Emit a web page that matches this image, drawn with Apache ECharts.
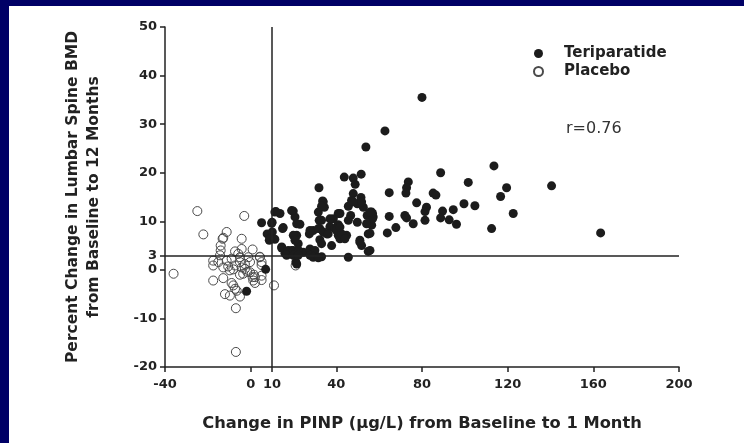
<!DOCTYPE html>
<html>
<head>
<meta charset="utf-8">
<script src="https://cdn.jsdelivr.net/npm/echarts@6/dist/echarts.min.js"></script>
<style>
html,body{margin:0;padding:0;background:#fff;}
#chart{width:744px;height:443px;}
</style>
</head>
<body>
<div id="chart"></div>
<script>
// ---- data ----
var xTicks = [-40, 0, 10, 40, 80, 120, 160, 200];
var yTicks = [-20, -10, 0, 3, 10, 20, 30, 40, 50];
var seriesNames = ['Teriparatide', 'Placebo'];
var teriparatide = [
  [80,35.5],[62.7,28.6],[53.8,25.3],[43.7,19.1],[47.9,18.9],[51.6,19.7],[48.8,17.6],[31.9,16.9],[33.6,14.2],[34.4,12.9],
  [47.9,15.7],[47.1,14.3],[51.5,14.9],[45.6,13.1],[49.8,13.6],[52.6,12.9],[56.5,11.9],[54.4,11.2],[19.9,12.1],[20.7,10.9],
  [13.7,11.6],[31.6,11.9],[38.6,10.5],[40.9,11.6],[46.7,11.2],[57.2,10.9],[32,10.2],[23,9.4],[15.2,8.7],[37,8.9],
  [40.9,9.3],[49.8,9.8],[56.5,9.2],[29.2,8.1],[32.3,8.5],[39.3,8.5],[27.4,7.4],[35.5,7.4],[40.9,7.1],[44.8,7.1],
  [21.5,7.1],[54.9,7.4],[32.3,6.2],[41.7,6.4],[37.8,5.0],[51,5.7],[51.8,5.0],[14.5,4.7],[22.2,5.4],[19.1,4.0],
  [16,3.4],[24.6,3.6],[27.7,4.3],[30,3.0],[33.1,2.7],[45.6,2.6],[54.9,3.8],[21.1,1.6],
  [64.7,15.9],[73.6,18.1],[72.8,16.9],[72.5,15.8],[88.7,20],[101.6,18],[85.2,15.8],[86.5,15.4],[77.5,13.8],[82.1,12.9],
  [81.4,12],[89.6,12.1],[94.6,12.4],[99.6,13.6],[104.7,13.2],[64.7,11],[72,11.2],[72.8,10.7],[81.4,10.2],[88.7,10.7],
  [92.7,10.3],[96.1,9.4],[75.9,9.5],[67.8,8.7],[63.8,7.6],[113.6,21.4],[119.5,16.9],[116.7,15.1],[122.6,11.6],[112.5,8.5],
  [140.5,17.3],[163.4,7.6],[56.9,11.6],[56.9,10.5],[55.7,7.5],[55.7,4],
  [11.3,11.9],[19.1,12.2],[21.5,9.5],[5.1,9.7],[9.8,9.6],[14.9,8.5],[33.9,14],[33.1,13.1],[47.9,14],[51.8,14],
  [55.7,11.9],[33.1,10.2],[37,10.5],[41.7,11.6],[45.6,10.2],[54.1,9.5],[27.7,8.1],[31.6,8.5],[33.9,7.8],[36.2,7.4],
  [40.1,8.1],[42.5,7.4],[41.7,8.8],[44,6.4],[51,6.1],[7.7,7.4],[9.8,6.4],[8.7,6.1],[19.9,7.1],[20.7,6.1],
  [33.1,5.4],[14.5,4.5],[17.5,4],[19.9,4],[22.2,4.1],[27.7,4.1],[30,4],[16.8,3],[19.9,3],[22.2,3],
  [27.7,3],[29.2,2.6],[31.6,2.5],[21.5,1.2],[10,9.8],[10.1,7.8],[9,6.4],[11.3,6.3],[11.8,12],[7,0.1],[-1.9,-4.4]
];
var placebo = [
  [-24.9,12.1],[-3,11.1],[-22.1,7.3],[-11.2,7.8],[-13.1,6.4],[-4.2,6.4],[-14,5],[-14,4],[-4.2,4.3],[-7.3,3.8],
  [-5.8,3.3],[0.9,4.2],[4.3,2.7],[-1.1,2.6],[-5,2.6],[-17.5,1.9],[-17.5,0.9],[-15.1,1.6],[-11.2,1.9],[-8.9,2.3],
  [-12.8,0.5],[-10.5,0.7],[-7.3,0.9],[-5,1.6],[-2.7,1.2],[-0.3,1.6],[5.1,1.0],[-9.7,-0.1],[-8.1,0.1],[-4.2,0.5],
  [-2.7,0.2],[-1.6,-0.4],[-5,-1],[-3.5,-0.8],[-0.3,-0.5],[1.5,-1],[0.9,-1.5],[2,-1.5],[5.1,-1.2],[-17.5,-2.2],
  [-12.8,-1.7],[-8.9,-2.7],[-8.1,-3.2],[1.2,-2.2],[2,-2.7],[-7.3,-3.9],[-12,-5],[-9.7,-5.3],[-5,-5.5],[-6.9,-7.9],
  [-6.9,-16.9],[-36,-0.8],[10.9,-3.2],[-12.8,6.6],[-14.3,3],[-6.5,-4.3],[5.1,-2.1],[21,0.9],[4.3,2.6],[5.1,1.6]
];
var refX = 10;
var refY = 3;
var rText = 'r=0.76';
var xTitle = 'Change in PINP (\u00b5g/L) from Baseline to 1 Month';
var yTitle = 'Percent Change in Lumbar Spine BMD\nfrom Baseline to 12 Months';

var boldFont = 'DejaVu Sans';
var ink = '#222';

var chart = echarts.init(document.getElementById('chart'), null, {renderer: 'canvas'});
chart.setOption({
  backgroundColor: '#fff',
  animation: false,
  grid: {left: 165, right: 65, top: 27, bottom: 76},
  legend: {
    data: seriesNames,
    orient: 'vertical',
    left: 528,
    top: 41,
    itemWidth: 9,
    itemHeight: 9,
    itemGap: 3,
    icon: 'circle',
    textStyle: {fontFamily: boldFont, fontWeight: 'bold', fontSize: 15, color: ink, padding: [0, 0, 0, 16]}
  },
  xAxis: {
    type: 'value', min: -40, max: 200,
    name: xTitle, nameLocation: 'middle', nameGap: 49,
    nameTextStyle: {fontFamily: boldFont, fontWeight: 'bold', fontSize: 16.3, color: ink},
    axisLine: {show: true, onZero: false, lineStyle: {color: ink, width: 1.5}},
    axisTick: {show: true, customValues: xTicks, length: 5, lineStyle: {color: ink, width: 1.5}},
    axisLabel: {customValues: xTicks, margin: 11, fontFamily: boldFont, fontWeight: 'bold', fontSize: 13, color: ink},
    splitLine: {show: false}
  },
  yAxis: {
    type: 'value', min: -20, max: 50,
    name: yTitle, nameLocation: 'middle', nameGap: 61, nameRotate: 90,
    nameTextStyle: {fontFamily: boldFont, fontWeight: 'bold', fontSize: 15.5, color: ink, lineHeight: 21},
    axisLine: {show: true, onZero: false, lineStyle: {color: ink, width: 1.5}},
    axisTick: {show: true, customValues: yTicks, length: 5, lineStyle: {color: ink, width: 1.5}},
    axisLabel: {customValues: yTicks, margin: 8, fontFamily: boldFont, fontWeight: 'bold', fontSize: 13, color: ink},
    splitLine: {show: false}
  },
  graphic: [
    {type: 'rect', left: 0, top: 0, shape: {width: 9, height: 443}, style: {fill: '#000066'}, z: 100},
    {type: 'rect', left: 0, top: 0, shape: {width: 744, height: 6}, style: {fill: '#000066'}, z: 100},
    {type: 'text', left: 566, top: 121, style: {text: rText, fontSize: 16, fontFamily: 'DejaVu Sans', fill: '#333'}}
  ],
  series: [
    {
      name: 'Placebo', type: 'scatter', data: placebo, symbol: 'circle', symbolSize: 9, z: 3,
      itemStyle: {color: 'rgba(255,255,255,0)', borderColor: '#4a4a4a', borderWidth: 1, opacity: 1}
    },
    {
      name: 'Teriparatide', type: 'scatter', data: teriparatide, symbol: 'circle', symbolSize: 9, z: 4,
      itemStyle: {color: '#1c1c1c', opacity: 1},
      markLine: {
        silent: true, symbol: 'none', animation: false,
        label: {show: false},
        lineStyle: {color: ink, width: 1.5, type: 'solid'},
        data: [{xAxis: refX}, {yAxis: refY}]
      }
    }
  ]
});
</script>
</body>
</html>
